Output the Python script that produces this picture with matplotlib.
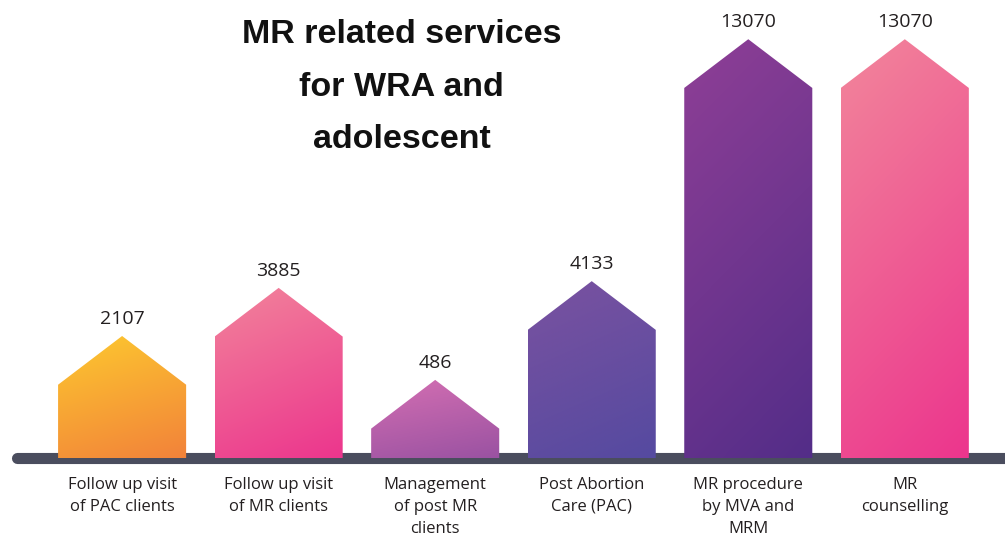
import matplotlib
matplotlib.use("Agg")
import matplotlib.pyplot as plt
import numpy as np
from matplotlib.patches import Polygon
from matplotlib.colors import to_rgb

# data
categories = ["Follow up visit\nof PAC clients", "Follow up visit\nof MR clients",
              "Management\nof post MR\nclients", "Post Abortion\nCare (PAC)",
              "MR procedure\nby MVA and\nMRM", "MR\ncounselling"]
values = [2107, 3885, 486, 4133, 13070, 13070]

# gradient colours (top-left -> bottom-right)
top_cols = ["#fdc92f", "#f2849b", "#d46fb2", "#7a52a0", "#8f3f96", "#f2869b"]
bot_cols = ["#f2823a", "#ec358d", "#9a52a2", "#554aa0", "#532d88", "#ec358d"]

base = -600      # bars start a bit below zero
peak = 1800      # height of the roof
width = 0.818
ymin, ymax = -3592, 16319
upp = (ymax - ymin) / 539.0   # data units per pixel

fig = plt.figure(figsize=(10.05, 5.39), dpi=100)
ax = fig.add_axes([0, 0, 1, 1])
ax.set_axis_off()

# baseline bar
ax.plot([-0.67, 6.0], [base - 10, base - 10], color="#4a4d5e", lw=8,
        solid_capstyle="round", zorder=1)

for i, (v, c1, c2) in enumerate(zip(values, top_cols, bot_cols)):
    x0, x1 = i - width / 2, i + width / 2
    top = v + peak
    pts = [(x0, base), (x0, v), (i, top), (x1, v), (x1, base)]
    poly = Polygon(pts, closed=True, facecolor="none", edgecolor="none", zorder=2)
    ax.add_patch(poly)
    yy, xx = np.mgrid[0:1:200j, 0:1:60j]
    t = 0.8 * yy + 0.25 * xx
    t = t / t.max()
    a, b = np.array(to_rgb(c1)), np.array(to_rgb(c2))
    img = a[None, None, :] * (1 - t[..., None]) + b[None, None, :] * t[..., None]
    im = ax.imshow(img, extent=[x0, x1, base, top], origin="upper",
                   aspect="auto", zorder=2, interpolation="bilinear")
    im.set_clip_path(poly)
    ax.annotate(str(v), (i, top), xytext=(0, 6), textcoords="offset points",
                ha="center", va="bottom", fontsize=14, color="#231f20",
                family="Open Sans")
    ax.annotate(categories[i], (i, base), xytext=(0, -13.5), textcoords="offset points",
                ha="center", va="top", fontsize=12, color="#231f20",
                family="Open Sans", linespacing=1.5)

ax.text(1.785, ymax - 19 * upp, "MR related services\nfor WRA and\nadolescent",
        ha="center", va="top", fontsize=24.5, fontweight="bold", color="#111111",
        family="Liberation Sans", linespacing=1.9)

ax.set_xlim(-0.78, 5.64)
ax.set_ylim(ymin, ymax)

fig.savefig("out.png", dpi=100)
